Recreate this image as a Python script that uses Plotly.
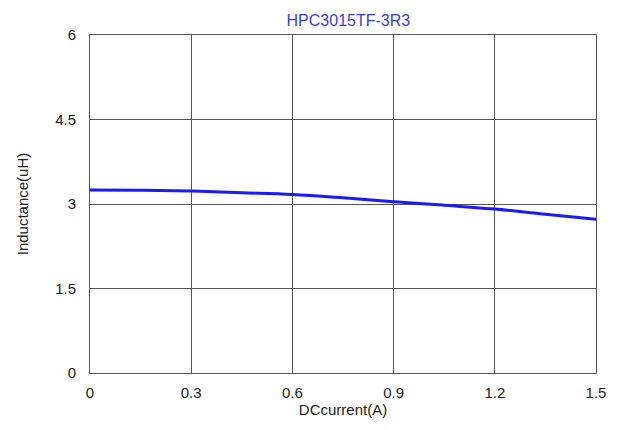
import plotly.graph_objects as go

current = [0, 0.15, 0.3, 0.45, 0.6, 0.75, 0.9, 1.05, 1.2, 1.35, 1.5]
inductance = [3.25, 3.245, 3.23, 3.20, 3.17, 3.11, 3.04, 2.98, 2.91, 2.82, 2.73]
x_ticks = [0, 0.3, 0.6, 0.9, 1.2, 1.5]
x_labels = ["0", "0.3", "0.6", "0.9", "1.2", "1.5"]
y_ticks = [0, 1.5, 3, 4.5, 6]
y_labels = ["0", "1.5", "3", "4.5", "6"]

fig = go.Figure()
fig.add_trace(go.Scatter(x=current, y=inductance, mode="lines",
                         line=dict(color="#1a1aff", width=3, shape="spline"),
                         showlegend=False))

fig.update_layout(
    width=610, height=422,
    margin=dict(l=82, r=22, t=27, b=57),
    paper_bgcolor="white", plot_bgcolor="white",
    font=dict(family="Liberation Sans, Arial", size=15, color="#222222"),
    title=dict(text="HPC3015TF-3R3", x=0.558, xanchor="center", y=0.97, yanchor="middle",
               font=dict(size=16, color="#3b3bdd")),
)
fig.update_xaxes(range=[0, 1.5], tickvals=x_ticks, ticktext=x_labels,
                 showgrid=True, gridcolor="#555555", gridwidth=1,
                 showline=True, linecolor="#555555", linewidth=1, mirror=True,
                 zeroline=False, ticks="outside", ticklen=6, tickcolor="rgba(0,0,0,0)",
                 title=dict(text="DCcurrent(A)", standoff=0, font=dict(size=15)))
fig.update_yaxes(range=[0, 6], tickvals=y_ticks, ticktext=y_labels,
                 showgrid=True, gridcolor="#555555", gridwidth=1,
                 showline=True, linecolor="#555555", linewidth=1, mirror=True,
                 zeroline=False, ticks="outside", ticklen=10, tickcolor="rgba(0,0,0,0)",
                 title=dict(text="Inductance(uH)", standoff=22, font=dict(size=15)))

fig.write_html("out.html")
